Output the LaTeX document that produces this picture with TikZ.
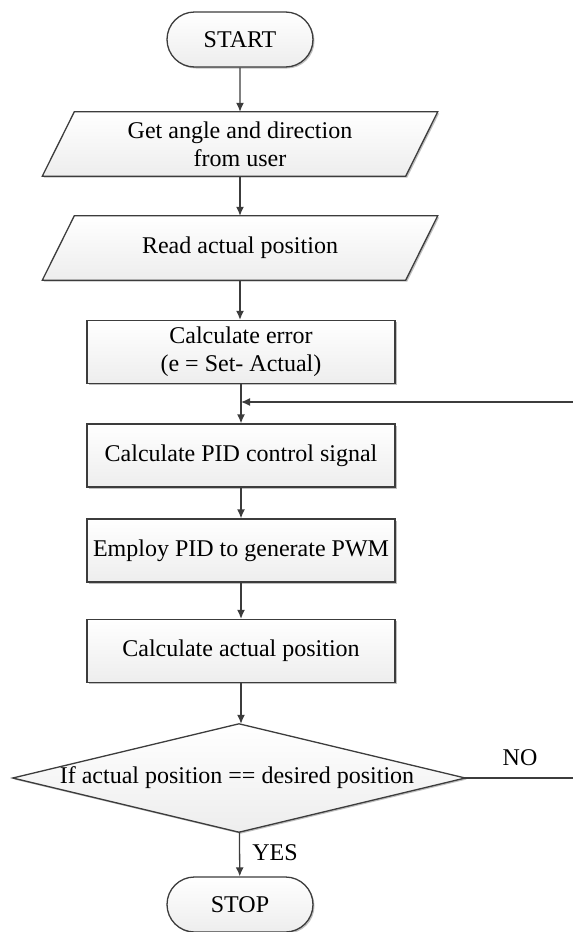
\documentclass[tikz,border=0pt]{standalone}
\usepackage{fontspec}
\setmainfont{Liberation Serif}
\usetikzlibrary{arrows.meta,shapes.misc,shadows,backgrounds}
\definecolor{ln}{HTML}{3C3C3C}
\begin{document}
\begin{tikzpicture}[x=1pt,y=-1pt,
 font=\fontsize{24}{28}\selectfont,
 shadowed/.style={drop shadow={shadow xshift=1.5pt,shadow yshift=-1.5pt,opacity=0.25,fill=black}},
 filled/.style={top color=white,bottom color=gray!14},
 term/.style={rounded rectangle, draw=ln, line width=1.3pt, filled, shadowed, minimum width=146pt, minimum height=55pt, inner sep=0pt},
 procbox/.style={rectangle, draw=ln, line width=1.3pt, filled, shadowed, minimum width=308pt, minimum height=63pt, inner sep=0pt, align=center},
 frame/.style={rectangle, draw=none, inner sep=0pt, align=center},
 outline/.style={draw=ln, line width=1.3pt, filled, shadowed},
 arr/.style={draw=ln, line width=1.3pt, -{Latex[length=9pt,width=8pt]}},
 lbl/.style={inner sep=0pt}
]
\useasboundingbox (0,0) rectangle (573,932);

\node[term] (start) at (240,39.5) {START};

\node[frame, minimum width=395pt, minimum height=64pt] (in1) at (240,144) {Get angle and direction\\from user};
\node[frame, minimum width=395pt, minimum height=64pt] (in2) at (240,248) {Read actual position};

\node[procbox] (r1) at (241,352) {Calculate error\\(e = Set- Actual)};
\node[procbox] (r2) at (241,455.5) {Calculate PID control signal};
\node[procbox] (r3) at (241,550.5) {Employ PID to generate PWM};
\node[procbox] (r4) at (241,651) {Calculate actual position};

\node[frame, minimum width=452pt, minimum height=108pt] (dec) at (239,778) {\hspace*{-4pt}If actual position == desired position};

\node[term] (stop) at (240,904.5) {STOP};

\begin{scope}[on background layer]
\path[outline] ([xshift=32pt]in1.north west) -- (in1.north east) -- ([xshift=-32pt]in1.south east) -- (in1.south west) -- cycle;
\path[outline] ([xshift=32pt]in2.north west) -- (in2.north east) -- ([xshift=-32pt]in2.south east) -- (in2.south west) -- cycle;
\path[outline] (dec.north) -- (dec.east) -- (dec.south) -- (dec.west) -- cycle;
\end{scope}

\draw[arr] (start) -- (in1);
\draw[arr] (in1) -- (in2);
\draw[arr] (in2.south) -- (in2.south |- r1.north);
\draw[arr] (r1) -- (r2);
\draw[arr] (r2) -- (r3);
\draw[arr] (r3) -- (r4);
\draw[arr] (r4.south) -- (r4.south |- dec.north);
\draw[arr] (dec) -- (stop);

\coordinate (fbR) at (576,778);
\coordinate (fbT) at (576,402);
\coordinate (fbJ) at (241,402);
\draw[arr] (dec.east) -- (fbR) -- (fbT) -- (fbJ);

\node[lbl] (no) at (520,758) {NO};
\node[lbl] (yes) at (275,853) {YES};
\end{tikzpicture}
\end{document}
